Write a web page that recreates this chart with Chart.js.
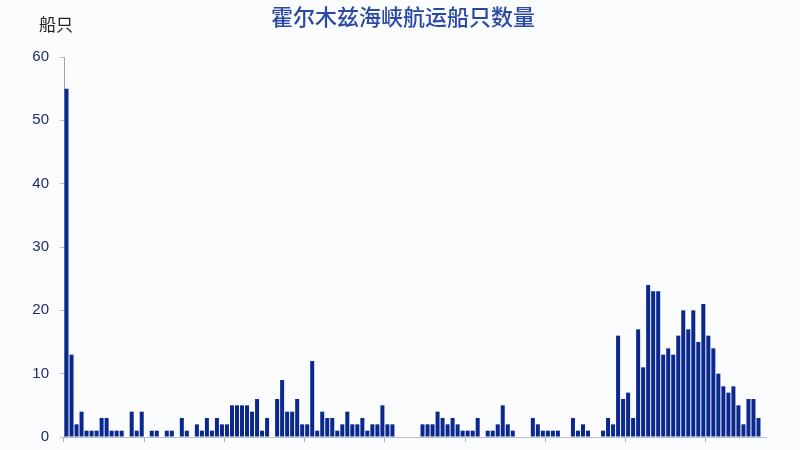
<!DOCTYPE html>
<html>
<head>
<meta charset="utf-8">
<script src="https://cdn.jsdelivr.net/npm/chart.js@4/dist/chart.umd.min.js"></script>
<style>
  html, body { margin: 0; padding: 0; background: #fbfcfe; overflow: hidden; }
  #wrap { width: 800px; height: 450px; position: relative; overflow: hidden; }
</style>
</head>
<body>
<div id="wrap"><canvas id="c" width="800" height="457"></canvas></div>
<script>
const chartTitle = '霍尔木兹海峡航运船只数量';
const yAxisTitle = '船只';
const shipCounts = [
  55, 13, 2, 4, 1, 1, 1, 3, 3, 1, 1, 1, 0, 4, 1, 4,
  0, 1, 1, 0, 1, 1, 0, 3, 1, 0, 2, 1, 3, 1, 3, 2,
  2, 5, 5, 5, 5, 4, 6, 1, 3, 0, 6, 9, 4, 4, 6, 2,
  2, 12, 1, 4, 3, 3, 1, 2, 4, 2, 2, 3, 1, 2, 2, 5,
  2, 2, 0, 0, 0, 0, 0, 2, 2, 2, 4, 3, 2, 3, 2, 1,
  1, 1, 3, 0, 1, 1, 2, 5, 2, 1, 0, 0, 0, 3, 2, 1,
  1, 1, 1, 0, 0, 3, 1, 2, 1, 0, 0, 1, 3, 2, 16, 6,
  7, 3, 17, 11, 24, 23, 23, 13, 14, 13, 16, 20, 17, 20, 15, 21,
  16, 14, 10, 8, 7, 8, 5, 2, 6, 6, 3, 0
];
const categories = shipCounts.map((_, i) => '第' + (i + 1) + '天');
const yTicks = [0, 10, 20, 30, 40, 50, 60];
const tickEvery = 16;

const overlay = {
  id: 'overlay',
  afterDraw(chart) {
    const ctx = chart.ctx;
    ctx.save();
    ctx.textAlign = 'center';
    ctx.textBaseline = 'middle';
    ctx.fillStyle = '#2a48a6';
    ctx.font = '500 22px "Noto Sans CJK SC"';
    ctx.fillText(chartTitle, 403, 17);
    ctx.fillStyle = '#222222';
    ctx.font = '17px "Noto Sans CJK SC"';
    ctx.fillText(yAxisTitle, 56, 25);
    ctx.restore();
  }
};

new Chart(document.getElementById('c'), {
  type: 'bar',
  data: {
    labels: categories,
    datasets: [{
      data: shipCounts,
      backgroundColor: '#0b288e',
      borderWidth: 0,
      barPercentage: 0.8,
      categoryPercentage: 1.0
    }]
  },
  options: {
    responsive: false,
    animation: false,
    devicePixelRatio: 1,
    layout: { padding: { top: 57, right: 34, bottom: 0, left: 0 } },
    plugins: { legend: { display: false }, tooltip: { enabled: false }, title: { display: false } },
    scales: {
      x: {
        offset: true,
        afterFit(scale) { scale.height = 13; },
        ticks: { display: false },
        grid: {
          offset: true,
          drawOnChartArea: false,
          drawTicks: true,
          tickLength: 5,
          color: (c) => (c.index % tickEvery === 0 ? '#a9b2c4' : 'rgba(0,0,0,0)')
        },
        border: { display: true, color: '#b7bfcf', width: 1 }
      },
      y: {
        min: 0,
        max: 60,
        afterFit(scale) { scale.width = 64; },
        afterBuildTicks(scale) { scale.ticks = yTicks.map(v => ({ value: v })); },
        ticks: {
          color: '#1c2b6e',
          font: { family: '"Liberation Sans", Arial', size: 15 },
          padding: 11
        },
        grid: {
          drawOnChartArea: false,
          drawTicks: true,
          tickLength: 4,
          color: '#b7bfcf'
        },
        border: { display: true, color: '#9aa4b8', width: 1 }
      }
    }
  },
  plugins: [overlay]
});
</script>
</body>
</html>
